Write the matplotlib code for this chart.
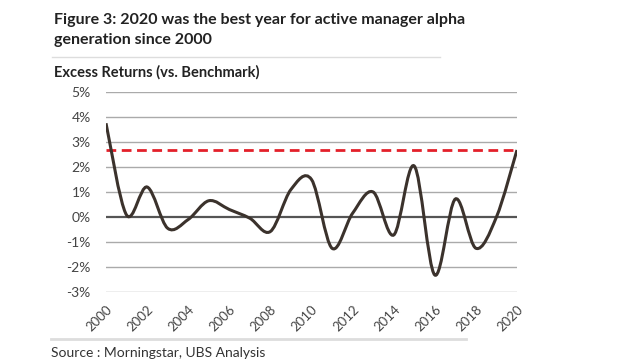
import numpy as np
import matplotlib.pyplot as plt
from matplotlib.path import Path
from matplotlib.patches import PathPatch

years = list(range(2000, 2021))
excess = [3.75, 0.08, 1.2, -0.45, -0.1, 0.65, 0.3, -0.05, -0.58, 1.1, 1.5,
          -1.25, 0.15, 1.0, -0.72, 2.04, -2.32, 0.72, -1.25, 0.0, 2.68]
level_2020 = 2.7
yticks = [5, 4, 3, 2, 1, 0, -1, -2, -3]


def smooth_path(x, y, t=1.0 / 6):
    # Excel-like smoothed line: cubic bezier through each point
    x = np.asarray(x, float)
    y = np.asarray(y, float)
    n = len(x)
    verts = [(x[0], y[0])]
    codes = [Path.MOVETO]
    for i in range(n - 1):
        p0 = i - 1 if i > 0 else i
        p3 = i + 2 if i + 2 < n else i + 1
        c1 = (x[i] + t * (x[i + 1] - x[p0]), y[i] + t * (y[i + 1] - y[p0]))
        c2 = (x[i + 1] - t * (x[p3] - x[i]), y[i + 1] - t * (y[p3] - y[i]))
        verts += [c1, c2, (x[i + 1], y[i + 1])]
        codes += [Path.CURVE4] * 3
    return Path(verts, codes)


plt.rcParams['font.family'] = ['Lato', 'DejaVu Sans']
fig = plt.figure(figsize=(6.4, 3.6), dpi=100)
ax = fig.add_axes([106 / 640, 1 - 292 / 360, (517 - 106) / 640, 200 / 360])

for v in yticks:
    ax.axhline(v, color="#555555" if v == 0 else "#aaaaaa",
               lw=1.6 if v == 0 else 1.0, zorder=1)

ax.axhline(level_2020, color="#e3202a", lw=2, linestyle=(0, (3.5, 2)), zorder=2)
ax.add_patch(PathPatch(smooth_path(years, excess), facecolor="none",
                       edgecolor="#3b322c", lw=2.2, zorder=3, capstyle="butt"))

ax.set_xlim(2000, 2020)
ax.set_ylim(-3, 5)
ax.set_yticks(yticks)
ax.set_yticklabels([f"{v}%" for v in yticks], fontsize=10, color="#444444")
ax.set_xticks(years[::2])
ax.set_xticklabels([str(y) for y in years[::2]], fontsize=9.5, color="#444444",
                   rotation=45, ha="right", rotation_mode="anchor")
ax.tick_params(length=0, pad=11)
ax.tick_params(axis="x", pad=8)
for s in ax.spines.values():
    s.set_visible(False)

fig.text(54 / 640, 1 - 20 / 360, "Figure 3: 2020 was the best year for active manager alpha",
         fontsize=11.5, fontweight="bold", color="#222222", va="center")
fig.text(54 / 640, 1 - 40 / 360, "generation since 2000",
         fontsize=11.5, fontweight="bold", color="#222222", va="center")
fig.add_artist(plt.Line2D([52 / 640, 440 / 640], [1 - 57 / 360] * 2,
                          color="#dddddd", lw=1))
fig.text(54 / 640, 1 - 72 / 360, "Excess Returns (vs. Benchmark)",
         fontsize=10.5, fontweight="bold", color="#222222", va="center")
fig.add_artist(plt.Line2D([51 / 640, 466 / 640], [1 - 339 / 360] * 2,
                          color="#dddddd", lw=2))
fig.text(51 / 640, 1 - 353 / 360, "Source : Morningstar, UBS Analysis",
         fontsize=10, color="#333333", va="center")

plt.savefig("out.png", dpi=100)
